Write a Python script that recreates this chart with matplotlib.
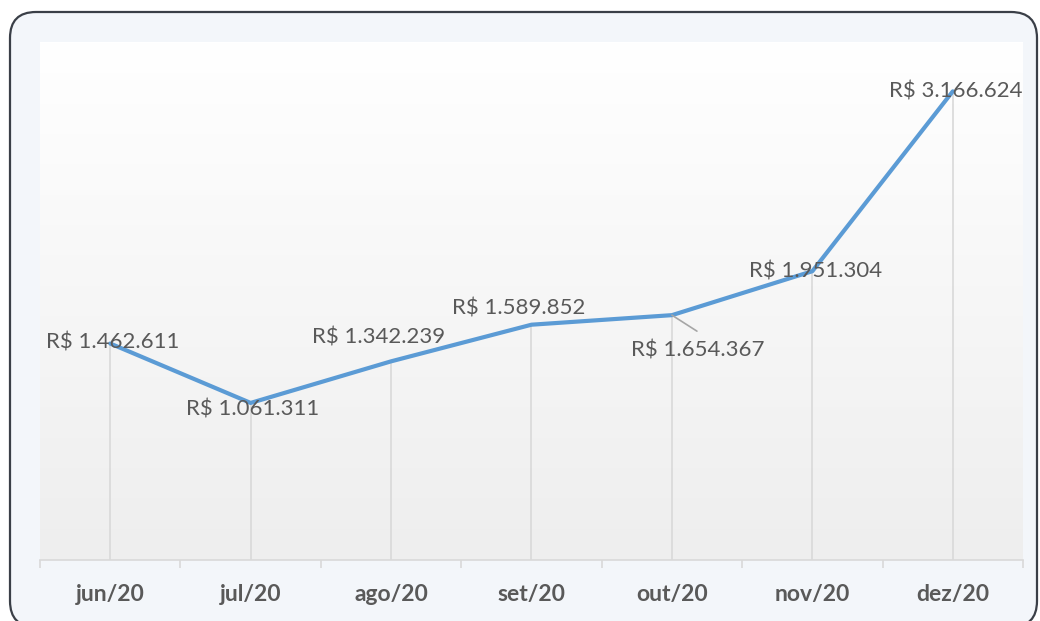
import numpy as np
import matplotlib
matplotlib.use("Agg")
import matplotlib.pyplot as plt
from matplotlib.patches import FancyBboxPatch
from matplotlib.transforms import IdentityTransform

# dados
meses = ['jun/20', 'jul/20', 'ago/20', 'set/20', 'out/20', 'nov/20', 'dez/20']
valores = [1462611, 1061311, 1342239, 1589852, 1654367, 1951304, 3166624]
rotulos = ['R$ 1.462.611', 'R$ 1.061.311', 'R$ 1.342.239', 'R$ 1.589.852',
           'R$ 1.654.367', 'R$ 1.951.304', 'R$ 3.166.624']

# deslocamento dos rotulos em pixels (dx, dy)
offsets = [(2, 1), (2, -7), (-13, 24), (-13, 16), (26, -35), (3, 0), (3, 0)]

plt.rcParams['font.family'] = ['Lato', 'DejaVu Sans']
cinza = '#595959'

fig = plt.figure(figsize=(10.4, 6.21), dpi=100)
fig.patch.set_facecolor('white')

# moldura arredondada
moldura = FancyBboxPatch((10, -6), 1027, 621 - 12 + 6,
                         boxstyle="round,pad=0,rounding_size=26",
                         transform=IdentityTransform(),
                         facecolor='#F3F6FA', edgecolor='#3A3F47', linewidth=1.6,
                         zorder=-5)
fig.patches.append(moldura)

ax = fig.add_axes([40 / 1040, 61 / 621, 983 / 1040, 518 / 621])
ax.set_zorder(2)
ax.set_facecolor('none')
x = np.arange(len(meses))
ymax = 3.5e6
ax.set_xlim(-0.5, len(meses) - 0.5)
ax.set_ylim(0, ymax)

# fundo em degrade
grad = np.linspace(0, 1, 256).reshape(-1, 1)
ax.imshow(grad, extent=[-0.5, len(meses) - 0.5, 0, ymax], aspect='auto',
          cmap=matplotlib.colors.LinearSegmentedColormap.from_list('g', ['#EEEEEE', '#FFFFFF']),
          origin='lower', zorder=0)

# linhas de queda
ax.vlines(x, 0, valores, color='#D9D9D9', linewidth=1.2, zorder=1)
ax.plot(x, valores, color='#5B9BD5', linewidth=3, solid_capstyle='round', zorder=3)

for i, (v, r) in enumerate(zip(valores, rotulos)):
    dx, dy = offsets[i]
    ax.annotate(r, (x[i], v), xytext=(dx * 0.72, dy * 0.72), textcoords='offset points',
                ha='center', va='center', fontsize=16, color=cinza, zorder=4)

# linha guia do rotulo de out/20
ax.annotate('', (x[4], valores[4]), xytext=(25 * 0.72, -16 * 0.72), textcoords='offset points',
            arrowprops=dict(arrowstyle='-', color='#A6A6A6', linewidth=1.2, shrinkA=0, shrinkB=0))

for s in ['top', 'right', 'left']:
    ax.spines[s].set_visible(False)
ax.spines['bottom'].set_color('#D9D9D9')
ax.spines['bottom'].set_linewidth(1.2)
ax.set_yticks([])
ax.set_xticks(np.arange(-0.5, len(meses)), minor=False)
ax.set_xticklabels([])
ax.tick_params(axis='x', length=6, color='#D9D9D9', width=1.2)
ax.set_xticks(x, minor=True)
ax.set_xticklabels(meses, minor=True, fontsize=16.5, fontweight='bold', color=cinza)
ax.tick_params(axis='x', which='minor', length=0, pad=17)

fig.savefig('out.png', dpi=100)
